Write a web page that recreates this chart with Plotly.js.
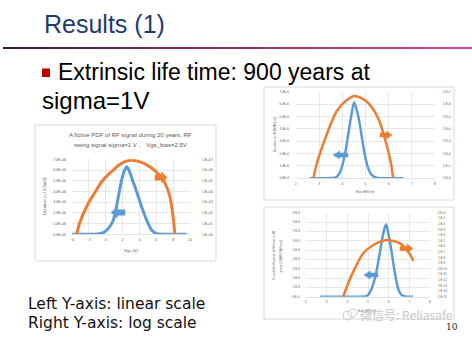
<!DOCTYPE html>
<html><head><meta charset="utf-8">
<script src="https://cdn.plot.ly/plotly-3.0.1.min.js"></script>
<style>html,body{margin:0;padding:0;background:#fff}#chart{width:472px;height:352px}</style>
</head><body><div id="chart"></div>
<script>
// ---------- DATA ----------
// Left chart: Vgs (V)
const mainOrangeX = [-3.45, -3.1, -2.07, -1.2, -0.48, 0.2, 0.9, 1.7, 2.5, 3.2, 4.0, 4.86, 5.9, 6.83, 7.3, 7.62, 8.0, 8.2];
const mainOrangeY = [1, 11, 800, 1e4, 8e4, 3.2e5, 1e6, 3.5e6, 7.1e6, 8.3e6, 6e6, 3e6, 8e5, 1.2e5, 2e4, 3.2e3, 40, 1];
const mainBlueX = [-4, -2, -1, -0.5, 0, 0.5, 0.9, 1.2, 1.5, 1.9, 2.2, 2.5, 2.8, 3.2, 3.67, 4.26, 4.85, 5.44, 6.0, 7, 8, 9, 9.6];
const mainBlueY = [0, 0, 2e4, 1e5, 3e5, 7.5e5, 1.34e6, 2.3e6, 3.5e6, 5.1e6, 5.9e6, 6.3e6, 5.9e6, 5.0e6, 3.98e6, 2.58e6, 1.34e6, 4e5, 5e4, 0, 0, 0, 0];
const mainXTicks = [-4, -2, 0, 2, 4, 6, 8, 10];
const mainLeftTickVals = [0, 1e6, 2e6, 3e6, 4e6, 5e6, 6e6, 7e6];
const mainLeftTickText = ["0.0E+00", "1.0E+06", "2.0E+06", "3.0E+06", "4.0E+06", "5.0E+06", "6.0E+06", "7.0E+06"];
const mainRightTickVals = [1, 1e1, 1e2, 1e3, 1e4, 1e5, 1e6, 1e7];
const mainRightTickText = ["1.E+00", "1.E+01", "1.E+02", "1.E+03", "1.E+04", "1.E+05", "1.E+06", "1.E+07"];

// Top-right chart: Eox (MV/cm)
const trOrangeX = [2.75, 2.9, 3.32, 3.75, 4.19, 4.54, 5.05, 5.55, 5.91, 6.1, 6.19];
const trOrangeY = [1, 16, 3.2e3, 2.5e5, 2.1e6, 4.5e6, 1.6e6, 7e4, 500, 16, 1];
const trBlueX = [2.6, 3.0, 3.5, 3.75, 3.9, 4.04, 4.15, 4.25, 4.38, 4.51, 4.64, 4.76, 4.87, 4.97, 5.1, 5.26, 5.5, 6.0, 6.63];
const trBlueY = [0, 0, 2e4, 1e5, 5e5, 1.34e6, 2.3e6, 3.5e6, 5.0e6, 6.14e6, 5.4e6, 4.3e6, 3.0e6, 1.9e6, 9e5, 2.7e5, 3e4, 0, 0];
const trXTicks = [2, 3, 4, 5, 6, 7, 8];
const trLeftTickVals = [0, 1e6, 2e6, 3e6, 4e6, 5e6, 6e6, 7e6];
const trLeftTickText = ["0.0E+0", "1.0E+6", "2.0E+6", "3.0E+6", "4.0E+6", "5.0E+6", "6.0E+6", "7.0E+6"];
const trRightTickVals = [1, 1e1, 1e2, 1e3, 1e4, 1e5, 1e6, 1e7];
const trRightTickText = ["1.E+0", "1.E+1", "1.E+2", "1.E+3", "1.E+4", "1.E+5", "1.E+6", "1.E+7"];

// Bottom-right chart
const brOrangeX = [3.8, 4.0, 4.29, 4.77, 5.26, 5.9, 6.55, 6.95, 7.2];
const brOrangeY = [1e-15, 1e-13, 3e-11, 5.6e-8, 1.7e-6, 1.35e-5, 3.4e-6, 1.1e-7, 2.5e-9];
const brBlueX = [2.68, 3.5, 4.5, 4.93, 5.1, 5.34, 5.46, 5.58, 5.72, 5.87, 6.0, 6.14, 6.26, 6.38, 6.5, 6.62, 6.8, 7.19];
const brBlueY = [0, 0, 0, 5e-8, 5e-7, 2.0e-6, 3.3e-6, 4.8e-6, 6.6e-6, 7.76e-6, 6.6e-6, 4.8e-6, 3.1e-6, 1.6e-6, 6e-7, 2e-7, 2e-8, 0];
const brXTicks = [2, 3, 4, 5, 6, 7, 8];
const brLeftTickVals = [0, 1e-6, 2e-6, 3e-6, 4e-6, 5e-6, 6e-6, 7e-6, 8e-6, 9e-6];
const brLeftTickText = ["0.E+0", "1.E-6", "2.E-6", "3.E-6", "4.E-6", "5.E-6", "6.E-6", "7.E-6", "8.E-6", "9.E-6"];
const brRightTickVals = [1, 1e-1, 1e-2, 1e-3, 1e-4, 1e-5, 1e-6, 1e-7, 1e-8, 1e-9, 1e-10, 1e-11, 1e-12, 1e-13, 1e-14, 1e-15];
const brRightTickText = ["1.E+0", "1.E-1", "1.E-2", "1.E-3", "1.E-4", "1.E-5", "1.E-6", "1.E-7", "1.E-8", "1.E-9", "1.E-10", "1.E-11", "1.E-12", "1.E-13", "1.E-14", "1.E-15"];

// ---------- LAYOUT ----------
const W = 472, H = 352;
const PX = x => x / W, PY = y => 1 - y / H;
const ORANGE = '#ed7d31', BLUE = '#5b9bd5', GRID = '#d9d9d9', TXT = '#595959';
const FONT = 'Liberation Sans, Arial, sans-serif';

const traces = [
  {x: mainBlueX, y: mainBlueY, xaxis: 'x', yaxis: 'y', mode: 'lines', line: {color: BLUE, width: 3, shape: 'spline', smoothing: 0.8}},
  {x: mainOrangeX, y: mainOrangeY, xaxis: 'x', yaxis: 'y2', mode: 'lines', line: {color: ORANGE, width: 3, shape: 'spline', smoothing: 0.8}},
  {x: trBlueX, y: trBlueY, xaxis: 'x2', yaxis: 'y3', mode: 'lines', line: {color: BLUE, width: 2.5, shape: 'spline', smoothing: 0.8}},
  {x: trOrangeX, y: trOrangeY, xaxis: 'x2', yaxis: 'y4', mode: 'lines', line: {color: ORANGE, width: 2.5, shape: 'spline', smoothing: 0.8}},
  {x: brBlueX, y: brBlueY, xaxis: 'x3', yaxis: 'y5', mode: 'lines', line: {color: BLUE, width: 2.5, shape: 'spline', smoothing: 0.8}},
  {x: brOrangeX, y: brOrangeY, xaxis: 'x3', yaxis: 'y6', mode: 'lines', line: {color: ORANGE, width: 2.5, shape: 'spline', smoothing: 0.8}}
];

function xAx(dom, range, ticks, anchor, fs) {
  return {domain: dom, range: range, anchor: anchor, tickvals: ticks, showgrid: true, gridcolor: GRID, gridwidth: 0.6,
    zeroline: false, showline: true, linecolor: GRID, linewidth: 0.8, ticks: '', tickfont: {size: fs, color: TXT}, fixedrange: true, ticklabelstandoff: 2};
}
function yAx(dom, range, vals, text, anchor, fs, so) {
  return {domain: dom, range: range, anchor: anchor, tickvals: vals, ticktext: text, showgrid: true, gridcolor: GRID, gridwidth: 0.6,
    zeroline: false, showline: false, ticks: '', tickfont: {size: fs, color: TXT}, fixedrange: true, ticklabelstandoff: so};
}
function yLog(over, anchor, range, vals, text, fs, so) {
  return {overlaying: over, anchor: anchor, side: 'right', type: 'log', range: range, tickvals: vals, ticktext: text,
    showgrid: false, zeroline: false, showline: false, ticks: '', tickfont: {size: fs, color: TXT}, fixedrange: true, ticklabelstandoff: so};
}

const layout = {
  width: W, height: H, margin: {l: 0, r: 0, t: 0, b: 0}, paper_bgcolor: '#fff', plot_bgcolor: 'rgba(0,0,0,0)',
  showlegend: false, font: {family: FONT, color: TXT},
  xaxis: xAx([PX(72), PX(190)], [-4, 10], mainXTicks, 'y', 3.6),
  yaxis: yAx([PY(234.3), PY(159.3)], [0, 7e6], mainLeftTickVals, mainLeftTickText, 'x', 3.4, 5),
  yaxis2: yLog('y', 'x', [0, 7], mainRightTickVals, mainRightTickText, 3.4, 11),
  xaxis2: xAx([PX(296), PX(435)], [2, 8], trXTicks, 'y3', 3.2),
  yaxis3: yAx([PY(178.3), PY(91.7)], [0, 7e6], trLeftTickVals, trLeftTickText, 'x2', 3.0, 6),
  yaxis4: yLog('y3', 'x2', [0, 7], trRightTickVals, trRightTickText, 3.0, 7),
  xaxis3: xAx([PX(306), PX(430)], [2, 8], brXTicks, 'y5', 3.2),
  yaxis5: yAx([PY(296.7), PY(212.7)], [0, 9e-6], brLeftTickVals, brLeftTickText, 'x3', 3.0, 5),
  yaxis6: yLog('y5', 'x3', [-15, 0], brRightTickVals, brRightTickText, 3.0, 7),
  shapes: [],
  annotations: []
};

// chart frames
[[35, 125, 216, 261], [264, 87, 454, 200], [264, 207, 454, 319]].forEach(b => {
  layout.shapes.push({type: 'rect', xref: 'paper', yref: 'paper', x0: PX(b[0]), x1: PX(b[2]), y0: PY(b[3]), y1: PY(b[1]),
    line: {color: '#d9d9d9', width: 1}, fillcolor: 'rgba(0,0,0,0)', layer: 'below'});
});

// title rule (gradient)
const c0 = [64, 28, 62], c1 = [216, 72, 148], NSEG = 20, lx0 = 3, lx1 = 472;
for (let i = 0; i < NSEG; i++) {
  const t = i / (NSEG - 1);
  const c = c0.map((v, k) => Math.round(v + (c1[k] - v) * t));
  layout.shapes.push({type: 'line', xref: 'paper', yref: 'paper',
    x0: PX(lx0 + (lx1 - lx0) * i / NSEG), x1: PX(lx0 + (lx1 - lx0) * (i + 1) / NSEG + 0.5),
    y0: PY(48), y1: PY(48), line: {color: `rgb(${c[0]},${c[1]},${c[2]})`, width: 2}});
}

// bullet
layout.shapes.push({type: 'rect', xref: 'paper', yref: 'paper', x0: PX(42), x1: PX(50), y0: PY(77), y1: PY(68.5), fillcolor: '#c00000', line: {width: 0}});

// block arrows (decoration)
function arrowPath(x0, x1, y0, y1, dir) {
  const w = x1 - x0, h = y1 - y0, hl = w * 0.45, t = h * 0.25, m = (y0 + y1) / 2;
  let pts;
  if (dir === 'r') pts = [[x0, y0 + t], [x1 - hl, y0 + t], [x1 - hl, y0], [x1, m], [x1 - hl, y1], [x1 - hl, y1 - t], [x0, y1 - t]];
  else pts = [[x1, y0 + t], [x0 + hl, y0 + t], [x0 + hl, y0], [x0, m], [x0 + hl, y1], [x0 + hl, y1 - t], [x1, y1 - t]];
  return 'M ' + pts.map(p => PX(p[0]).toFixed(5) + ',' + PY(p[1]).toFixed(5)).join(' L ') + ' Z';
}
[[155, 167, 172, 183, 'r', ORANGE], [111, 125, 207, 218, 'l', BLUE],
 [380, 392, 131, 139, 'r', ORANGE], [333, 348, 151, 159, 'l', BLUE],
 [400, 413, 244, 253, 'r', ORANGE], [364, 378, 271, 279, 'l', BLUE]].forEach(a => {
  layout.shapes.push({type: 'path', xref: 'paper', yref: 'paper', path: arrowPath(a[0], a[1], a[2], a[3], a[4]),
    fillcolor: a[5], line: {color: a[5], width: 0.5}, layer: 'above'});
});

// watermark icon
layout.shapes.push({type: 'circle', xref: 'paper', yref: 'paper', x0: PX(343), x1: PX(352), y0: PY(320), y1: PY(311), line: {color: '#c8c8c8', width: 1}});
layout.shapes.push({type: 'circle', xref: 'paper', yref: 'paper', x0: PX(348), x1: PX(357), y0: PY(317), y1: PY(309), line: {color: '#c8c8c8', width: 1}});

function ann(text, x, y, opts) {
  layout.annotations.push(Object.assign({text: text, x: PX(x), y: PY(y), xref: 'paper', yref: 'paper', showarrow: false,
    xanchor: 'center', yanchor: 'middle', font: {family: FONT, size: 10, color: TXT}}, opts || {}));
}
ann('Results (1)', 42, 24, {xanchor: 'left', font: {family: FONT, size: 25, color: '#1f3d6b'}});
ann('Extrinsic life time: 900 years at', 56, 72, {xanchor: 'left', font: {family: FONT, size: 23, color: '#000'}});
ann('sigma=1V', 40, 101, {xanchor: 'left', font: {family: FONT, size: 24, color: '#000'}});
ann('A fictive PDF of RF signal during 20 years, RF', 130, 135, {font: {family: FONT, size: 6, color: TXT}});
ann('swing signal sigma=1 V，  Vgs_bias=2.5V', 130, 145, {font: {family: FONT, size: 6, color: TXT}});
ann('Vgs (V)', 131, 251, {font: {family: FONT, size: 4.2, color: TXT}});
ann('Duration (s / 2.5mV)', 45, 196, {textangle: -90, font: {family: FONT, size: 4.2, color: TXT}});
ann('Duration (s / 0.01MV/cm)', 275, 135, {textangle: -90, font: {family: FONT, size: 3.2, color: TXT}});
ann('Eox (MV/cm)', 365, 192, {font: {family: FONT, size: 3.2, color: TXT}});
ann('Cumulated fraction of lifetime in 20', 274, 256, {textangle: -90, font: {family: FONT, size: 3.2, color: TXT}});
ann('years (1/(0.01 MV/cm))', 280.5, 256, {textangle: -90, font: {family: FONT, size: 3.2, color: TXT}});
ann('Eox (MV/cm)', 367, 311, {font: {family: FONT, size: 3.2, color: TXT}});
ann('Left Y-axis: linear scale', 26, 304, {xanchor: 'left', font: {family: 'DejaVu Sans, Verdana, sans-serif', size: 15.5, color: '#111'}});
ann('Right Y-axis: log scale', 26, 322.5, {xanchor: 'left', font: {family: 'DejaVu Sans, Verdana, sans-serif', size: 15.5, color: '#111'}});
ann('微信号: Reliasafe', 358, 314, {xanchor: 'left', font: {family: 'Noto Sans CJK SC, sans-serif', size: 12, color: '#c8c8c8'}});
ann('10', 452, 327, {font: {family: 'DejaVu Serif, serif', size: 9, color: '#222'}});

Plotly.newPlot('chart', traces, layout, {staticPlot: true, displayModeBar: false});
</script></body></html>
